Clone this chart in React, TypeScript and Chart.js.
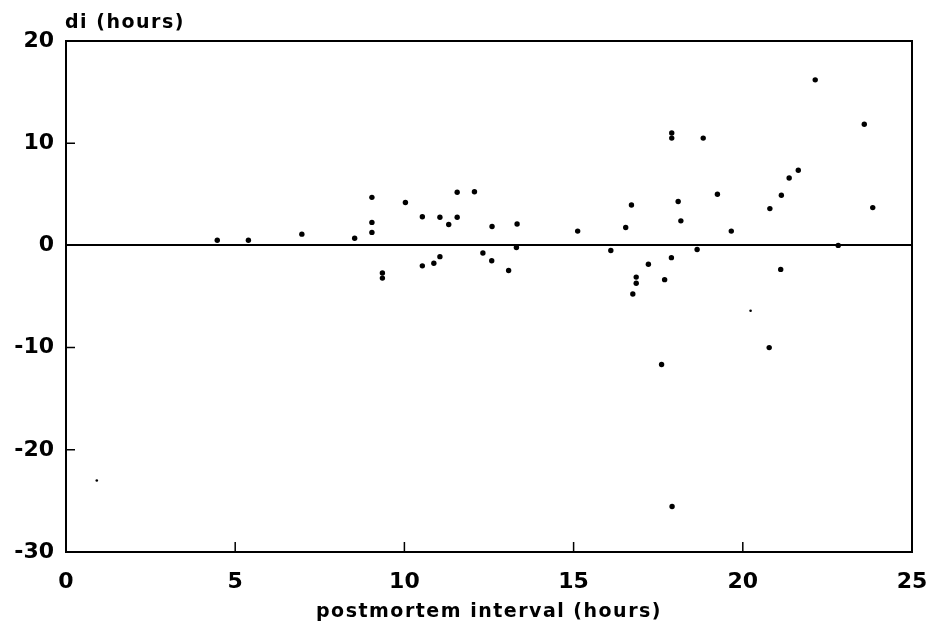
import React, { useEffect, useRef } from "react";
import { Chart, registerables } from "chart.js";

Chart.register(...registerables);

// postmortem interval (hours)
const mainX = [
  4.47, 5.39, 6.97, 8.53, 9.04, 9.04, 9.04, 9.35, 9.35, 10.03, 10.53, 11.05, 11.31, 11.56, 11.56,
  10.53, 10.87, 11.05,
  12.07, 12.59, 13.33, 15.12, 16.54, 16.71, 17.9, 17.9, 18.09, 18.17, 18.83, 19.25, 19.66, 20.8,
  21.14, 21.37, 21.64, 22.14, 22.82, 23.59, 23.84,
  12.32, 12.58, 13.08, 13.31, 16.1, 16.85, 16.85, 16.75, 17.21, 17.69, 17.89, 18.65, 21.12,
  17.6, 20.78, 17.91,
];
// di (hours)
const mainY = [
  0.5, 0.5, 1.1, 0.7, 4.7, 2.25, 1.27, -2.7, -3.2, 4.2, 2.8, 2.75, 2.05, 5.2, 2.75,
  -2.0, -1.75, -1.1,
  5.25, 1.85, 2.1, 1.4, 1.75, 3.95, 11.0, 10.5, 4.3, 2.4, 10.5, 5.0, 1.4, 3.6,
  4.9, 6.6, 7.35, 16.2, 0.0, 11.85, 3.7,
  -0.75, -1.5, -2.45, -0.2, -0.5, -3.1, -3.7, -4.75, -1.85, -3.35, -1.2, -0.4, -2.35,
  -11.65, -10.0, -25.55,
];
// faint / small marks
const smallX = [20.23, 0.91];
const smallY = [-6.4, -23.0];

const xTicks = [0, 5, 10, 15, 20, 25];
const yTicks = [-30, -20, -10, 0, 10, 20];
const yTitle = "di (hours)";
const xTitle = "postmortem interval (hours)";

const FONT = "'DejaVu Sans', sans-serif";

const framePlugin = {
  id: "frame",
  afterDraw(chart: any) {
    const { ctx, chartArea: a, scales } = chart;
    const xMin = xTicks[0], xMax = xTicks[xTicks.length - 1];
    const yMin = yTicks[0], yMax = yTicks[yTicks.length - 1];
    ctx.save();
    ctx.strokeStyle = "#000";
    ctx.lineWidth = 2;
    ctx.strokeRect(a.left, a.top, a.right - a.left, a.bottom - a.top);
    ctx.lineWidth = 1.5;
    ctx.beginPath();
    for (const v of xTicks) {
      if (v === xMin || v === xMax) continue;
      const px = scales.x.getPixelForValue(v);
      ctx.moveTo(px, a.bottom);
      ctx.lineTo(px, a.bottom - 10);
    }
    for (const v of yTicks) {
      if (v === yMin || v === yMax || v === 0) continue;
      const py = scales.y.getPixelForValue(v);
      ctx.moveTo(a.left, py);
      ctx.lineTo(a.left + 9, py);
    }
    ctx.stroke();
    ctx.fillStyle = "#000";
    ctx.font = `bold 19px ${FONT}`;
    try { (ctx as any).letterSpacing = "1.5px"; } catch (e) {}
    ctx.textBaseline = "middle";
    ctx.textAlign = "left";
    ctx.fillText(yTitle, a.left - 1, 23);
    ctx.textAlign = "center";
    ctx.fillText(xTitle, (a.left + a.right) / 2, 612);
    ctx.restore();
  },
};

export default function App() {
  const ref = useRef<HTMLCanvasElement | null>(null);
  useEffect(() => {
    document.body.style.margin = "0";
    const canvas = ref.current;
    if (!canvas) return;
    const chart = new Chart(canvas, {
      type: "scatter",
      data: {
        datasets: [
          {
            data: mainX.map((x, i) => ({ x, y: mainY[i] })),
            pointRadius: 2.7,
            pointBackgroundColor: "#000",
            pointBorderWidth: 0,
            borderColor: "#000",
          },
          {
            data: smallX.map((x, i) => ({ x, y: smallY[i] })),
            pointRadius: 1.3,
            pointBackgroundColor: "#000",
            pointBorderWidth: 0,
            borderColor: "#000",
          },
        ],
      },
      options: {
        animation: false,
        responsive: false,
        maintainAspectRatio: false,
        events: [],
        layout: { padding: { top: 41, right: 18, left: 0, bottom: 0 } },
        plugins: { legend: { display: false }, tooltip: { enabled: false } },
        scales: {
          x: {
            type: "linear",
            min: xTicks[0],
            max: xTicks[xTicks.length - 1],
            afterBuildTicks: (s: any) => {
              s.ticks = xTicks.map((v) => ({ value: v }));
            },
            ticks: {
              color: "#000",
              font: { family: FONT, size: 22, weight: "bold" },
              padding: 17,
              maxRotation: 0,
              autoSkip: false,
            },
            grid: { display: false, drawTicks: false },
            border: { display: false },
            afterFit: (s: any) => {
              s.height = 76;
              s.paddingLeft = 0;
              s.paddingRight = 0;
            },
          },
          y: {
            type: "linear",
            min: yTicks[0],
            max: yTicks[yTicks.length - 1],
            afterBuildTicks: (s: any) => {
              s.ticks = yTicks.map((v) => ({ value: v }));
            },
            ticks: {
              color: "#000",
              font: { family: FONT, size: 22, weight: "bold" },
              padding: 12,
              autoSkip: false,
            },
            grid: {
              drawTicks: false,
              color: (c: any) => (c.tick && c.tick.value === 0 ? "#000" : "rgba(0,0,0,0)"),
              lineWidth: 2,
            },
            border: { display: false },
            afterFit: (s: any) => {
              s.width = 66;
              s.paddingTop = 0;
              s.paddingBottom = 0;
            },
          },
        },
      },
      plugins: [framePlugin],
    });
    return () => chart.destroy();
  }, []);
  return (
    <div style={{ width: 930, height: 628 }}>
      <canvas ref={ref} width={930} height={628} style={{ display: "block" }} />
    </div>
  );
}
